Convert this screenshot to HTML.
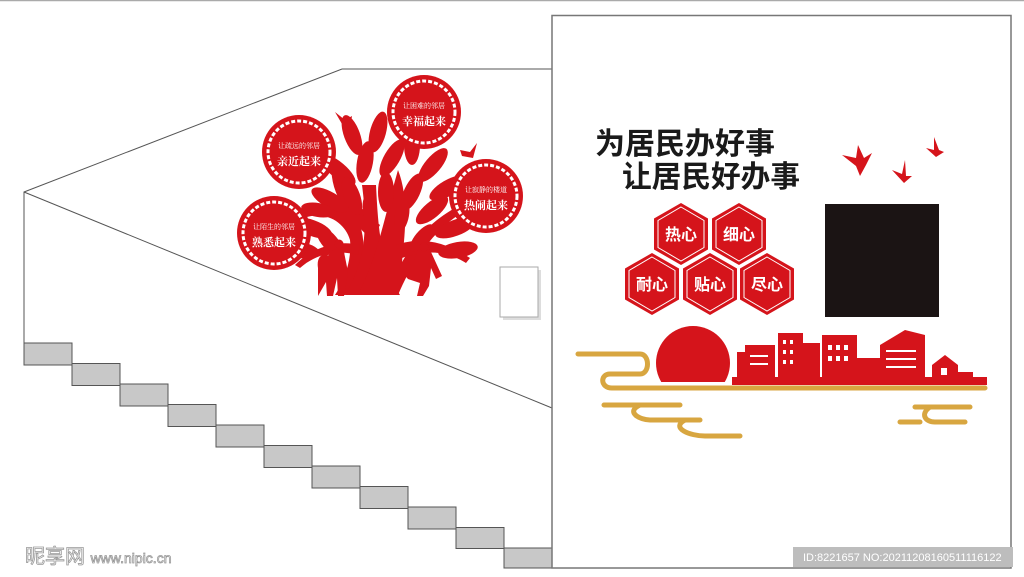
<!DOCTYPE html>
<html><head><meta charset="utf-8"><style>
html,body{margin:0;padding:0;background:#fff;}
svg{display:block;}
</style></head><body>
<svg width="1024" height="577" viewBox="0 0 1024 577" xmlns="http://www.w3.org/2000/svg">
<rect width="1024" height="577" fill="#fff"/>
<line x1="0" y1="0.5" x2="1024" y2="0.5" stroke="#aaa" stroke-width="1.5"/>
<g stroke="#555" stroke-width="1" fill="none">
<polyline points="24,343 24,192 342,69 552,69"/>
<line x1="24" y1="192" x2="552" y2="408"/>
</g>
<g fill="#c8c8c8" stroke="#555" stroke-width="1">
<rect x="24" y="343" width="48" height="22"/>
<rect x="72" y="363.5" width="48" height="22"/>
<rect x="120" y="384" width="48" height="22"/>
<rect x="168" y="404.5" width="48" height="22"/>
<rect x="216" y="425" width="48" height="22"/>
<rect x="264" y="445.5" width="48" height="22"/>
<rect x="312" y="466" width="48" height="22"/>
<rect x="360" y="486.5" width="48" height="22"/>
<rect x="408" y="507" width="48" height="22"/>
<rect x="456" y="527.5" width="48" height="21"/>
<rect x="504" y="548" width="48" height="20"/>
</g>
<rect x="552" y="15.5" width="459" height="552.5" fill="none" stroke="#777" stroke-width="1.5"/>
<rect x="503" y="270" width="38" height="50" fill="#ddd"/>
<rect x="500" y="267" width="38" height="50" fill="#fff" stroke="#aaa"/>

<!-- tree -->
<g fill="#d5141b">
<path d="M345,295 C362,275 368,250 360,225 C350,205 320,200 300,212 L304,218 C325,210 345,222 350,240 C352,258 345,280 335,295 Z"/>
<path d="M345,295 C365,262 368,230 362,185 L376,185 C378,225 380,262 400,295 Z"/>
<path d="M358,295 C378,255 385,215 398,170 C410,200 404,240 402,262 C415,240 430,222 455,208 L460,214 C432,232 412,262 398,295 Z"/>
<path d="M372,240 C345,215 328,190 332,160 L338,162 C340,190 362,210 380,225 Z"/>
<path d="M396,245 C425,235 450,245 470,258 L466,263 C445,250 425,250 402,258 Z"/>
<path d="M360,245 C340,240 315,245 295,265 L300,268 C318,252 340,250 358,255 Z"/>
<ellipse cx="352" cy="135" rx="8" ry="21" transform="rotate(-20 352 135)"/>
<ellipse cx="378" cy="132" rx="8" ry="21" transform="rotate(15 378 132)"/>
<ellipse cx="338" cy="170" rx="8" ry="22" transform="rotate(-50 338 170)"/>
<ellipse cx="365" cy="162" rx="8" ry="21" transform="rotate(10 365 162)"/>
<ellipse cx="392" cy="158" rx="8" ry="21" transform="rotate(30 392 158)"/>
<ellipse cx="412" cy="145" rx="8" ry="20"/>
<ellipse cx="433" cy="165" rx="8" ry="21" transform="rotate(40 433 165)"/>
<ellipse cx="448" cy="188" rx="8" ry="21" transform="rotate(60 448 188)"/>
<ellipse cx="330" cy="200" rx="8" ry="21" transform="rotate(-60 330 200)"/>
<ellipse cx="352" cy="196" rx="8" ry="20" transform="rotate(-20 352 196)"/>
<ellipse cx="386" cy="192" rx="8" ry="20"/>
<ellipse cx="412" cy="192" rx="8" ry="20" transform="rotate(25 412 192)"/>
<ellipse cx="432" cy="210" rx="8" ry="20" transform="rotate(50 432 210)"/>
<ellipse cx="455" cy="228" rx="8" ry="21" transform="rotate(70 455 228)"/>
<ellipse cx="458" cy="250" rx="8" ry="20" transform="rotate(80 458 250)"/>
<ellipse cx="312" cy="228" rx="8" ry="21" transform="rotate(-70 312 228)"/>
<ellipse cx="300" cy="250" rx="8" ry="20" transform="rotate(-80 300 250)"/>
<ellipse cx="330" cy="242" rx="8" ry="20" transform="rotate(-40 330 242)"/>
<ellipse cx="318" cy="210" rx="7" ry="17" transform="rotate(-80 318 210)"/>
<ellipse cx="422" cy="238" rx="7" ry="17" transform="rotate(40 422 238)"/>
<ellipse cx="402" cy="215" rx="7" ry="17" transform="rotate(10 402 215)"/>
<ellipse cx="370" cy="212" rx="7" ry="17" transform="rotate(-10 370 212)"/>
<path d="M318,296 L318,268 C316,256 324,252 328,256 C330,250 338,246 344,252 L348,272 L344,296 L338,296 L337,278 L333,296 L327,296 L326,282 Z"/>
<circle cx="325" cy="252" r="4.5"/><circle cx="339" cy="244" r="4.5"/>
<path d="M402,272 L414,262 L418,250 C420,245 429,245 431,252 L442,276 L436,279 L431,268 L429,286 L423,296 L417,296 L420,283 L408,279 Z"/>
<circle cx="424" cy="247" r="4.5"/>
<path d="M335,112 L345,120 L352,116 L350,128 L342,124 Z"/>
<path d="M460,150 L470,152 L477,143 L473,158 L462,156 Z"/>
</g>
<g>
<g transform="translate(299,152)"><circle r="37" fill="#d5141b"/><circle r="31" fill="none" stroke="#fff" stroke-width="3" stroke-dasharray="4 2"/><circle r="28" fill="#d5141b"/></g>
<g transform="translate(424,112)"><circle r="37" fill="#d5141b"/><circle r="31" fill="none" stroke="#fff" stroke-width="3" stroke-dasharray="4 2"/><circle r="28" fill="#d5141b"/></g>
<g transform="translate(486,196)"><circle r="37" fill="#d5141b"/><circle r="31" fill="none" stroke="#fff" stroke-width="3" stroke-dasharray="4 2"/><circle r="28" fill="#d5141b"/></g>
<g transform="translate(274,233)"><circle r="37" fill="#d5141b"/><circle r="31" fill="none" stroke="#fff" stroke-width="3" stroke-dasharray="4 2"/><circle r="28" fill="#d5141b"/></g>
</g>
<g fill="#fff" font-family="'Liberation Serif','Noto Serif CJK SC',serif" text-anchor="middle">
<text x="299" y="148" font-size="7">让疏远的邻居</text><text x="299" y="165" font-size="11" font-weight="bold">亲近起来</text>
<text x="424" y="108" font-size="7">让困难的邻居</text><text x="424" y="125" font-size="11" font-weight="bold">幸福起来</text>
<text x="486" y="192" font-size="7">让寂静的楼道</text><text x="486" y="209" font-size="11" font-weight="bold">热闹起来</text>
<text x="274" y="229" font-size="7">让陌生的邻居</text><text x="274" y="246" font-size="11" font-weight="bold">熟悉起来</text>
</g>

<g fill="#1a1a1a" font-family="'Liberation Sans','Noto Sans CJK SC',sans-serif" font-weight="bold" font-size="30">
<text x="595" y="154" textLength="180" lengthAdjust="spacingAndGlyphs">为居民办好事</text>
<text x="622" y="187" textLength="178" lengthAdjust="spacingAndGlyphs">让居民好办事</text>
</g>
<g fill="#d5141b">
<path d="M842,155 L856,158 L858,145 L864,158 L872,153 L866,165 L860,176 L856,166 Z"/>
<path d="M892,170 L902,174 L905,160 L906,176 L912,176 L904,183 Z"/>
<path d="M926,148 L934,150 L934,137 L939,150 L944,152 L936,157 Z"/>
</g>
<g>
<g transform="translate(681,234)"><polygon points="0,-31 27,-15.5 27,15.5 0,31 -27,15.5 -27,-15.5" fill="#d5141b"/><polygon points="0,-27 23,-13.5 23,13.5 0,27 -23,13.5 -23,-13.5" fill="none" stroke="#fff" stroke-width="1"/></g>
<g transform="translate(739,234)"><polygon points="0,-31 27,-15.5 27,15.5 0,31 -27,15.5 -27,-15.5" fill="#d5141b"/><polygon points="0,-27 23,-13.5 23,13.5 0,27 -23,13.5 -23,-13.5" fill="none" stroke="#fff" stroke-width="1"/></g>
<g transform="translate(652,284)"><polygon points="0,-31 27,-15.5 27,15.5 0,31 -27,15.5 -27,-15.5" fill="#d5141b"/><polygon points="0,-27 23,-13.5 23,13.5 0,27 -23,13.5 -23,-13.5" fill="none" stroke="#fff" stroke-width="1"/></g>
<g transform="translate(710,284)"><polygon points="0,-31 27,-15.5 27,15.5 0,31 -27,15.5 -27,-15.5" fill="#d5141b"/><polygon points="0,-27 23,-13.5 23,13.5 0,27 -23,13.5 -23,-13.5" fill="none" stroke="#fff" stroke-width="1"/></g>
<g transform="translate(767,284)"><polygon points="0,-31 27,-15.5 27,15.5 0,31 -27,15.5 -27,-15.5" fill="#d5141b"/><polygon points="0,-27 23,-13.5 23,13.5 0,27 -23,13.5 -23,-13.5" fill="none" stroke="#fff" stroke-width="1"/></g>
</g>
<g fill="#fff" font-family="'Liberation Sans','Noto Sans CJK SC',sans-serif" font-weight="bold" font-size="16" text-anchor="middle">
<text x="681" y="240">热心</text><text x="739" y="240">细心</text>
<text x="652" y="290">耐心</text><text x="710" y="290">贴心</text><text x="767" y="290">尽心</text>
</g>
<rect x="825" y="204" width="114" height="113" fill="#1b1414"/>
<clipPath id="sc"><rect x="640" y="300" width="110" height="82"/></clipPath>
<circle cx="693" cy="363" r="37" fill="#d5141b" clip-path="url(#sc)"/>
<g fill="#d5141b">
<rect x="732" y="377" width="255" height="8"/>
<rect x="737" y="352" width="20" height="26"/>
<rect x="745" y="345" width="30" height="33"/>
<rect x="778" y="333" width="25" height="45"/>
<rect x="800" y="343" width="20" height="35"/>
<rect x="822" y="335" width="35" height="43"/>
<rect x="855" y="358" width="25" height="20"/>
<polygon points="880,345 905,330 925,335 925,378 880,378"/>
<polygon points="932,365 945,355 958,365 958,378 932,378"/>
<rect x="958" y="372" width="15" height="6"/>
</g>
<g fill="#fff">
<rect x="783" y="340" width="3" height="4"/><rect x="790" y="340" width="3" height="4"/><rect x="783" y="350" width="3" height="4"/><rect x="790" y="350" width="3" height="4"/><rect x="783" y="360" width="3" height="4"/><rect x="790" y="360" width="3" height="4"/>
<rect x="828" y="345" width="4" height="5"/><rect x="836" y="345" width="4" height="5"/><rect x="844" y="345" width="4" height="5"/><rect x="828" y="356" width="4" height="5"/><rect x="836" y="356" width="4" height="5"/><rect x="844" y="356" width="4" height="5"/>
<rect x="886" y="350" width="30" height="2"/><rect x="886" y="358" width="30" height="2"/><rect x="886" y="366" width="30" height="2"/>
<rect x="750" y="355" width="18" height="2"/><rect x="750" y="363" width="18" height="2"/>
<rect x="941" y="368" width="6" height="7"/>
</g>
<g fill="none" stroke="#d8a640" stroke-width="5" stroke-linecap="round">
<path d="M578,354 L640,354 C650,354 650,374 640,374 L610,374 C600,374 600,388 612,388 L985,388"/>
<path d="M604,405 L680,405 M640,405 C625,412 640,420 650,420 L700,420 M685,420 C670,428 690,436 705,436 L740,436"/>
<path d="M915,407 L970,407 M930,407 C920,414 925,422 935,422 L965,422 M920,422 L900,422"/>
</g>
<text x="25" y="563" font-family="'Liberation Sans','Noto Sans CJK SC',sans-serif" font-size="20" fill="#fff" stroke="#999" stroke-width="0.8">昵享网 <tspan font-size="14">www.nipic.cn</tspan></text>
<rect x="793" y="547" width="220" height="20" fill="#bdbdbd"/>
<text x="803" y="561" font-family="'Liberation Sans',sans-serif" font-size="11" fill="#fff">ID:8221657 NO:20211208160511116122</text>
</svg>
</body></html>
